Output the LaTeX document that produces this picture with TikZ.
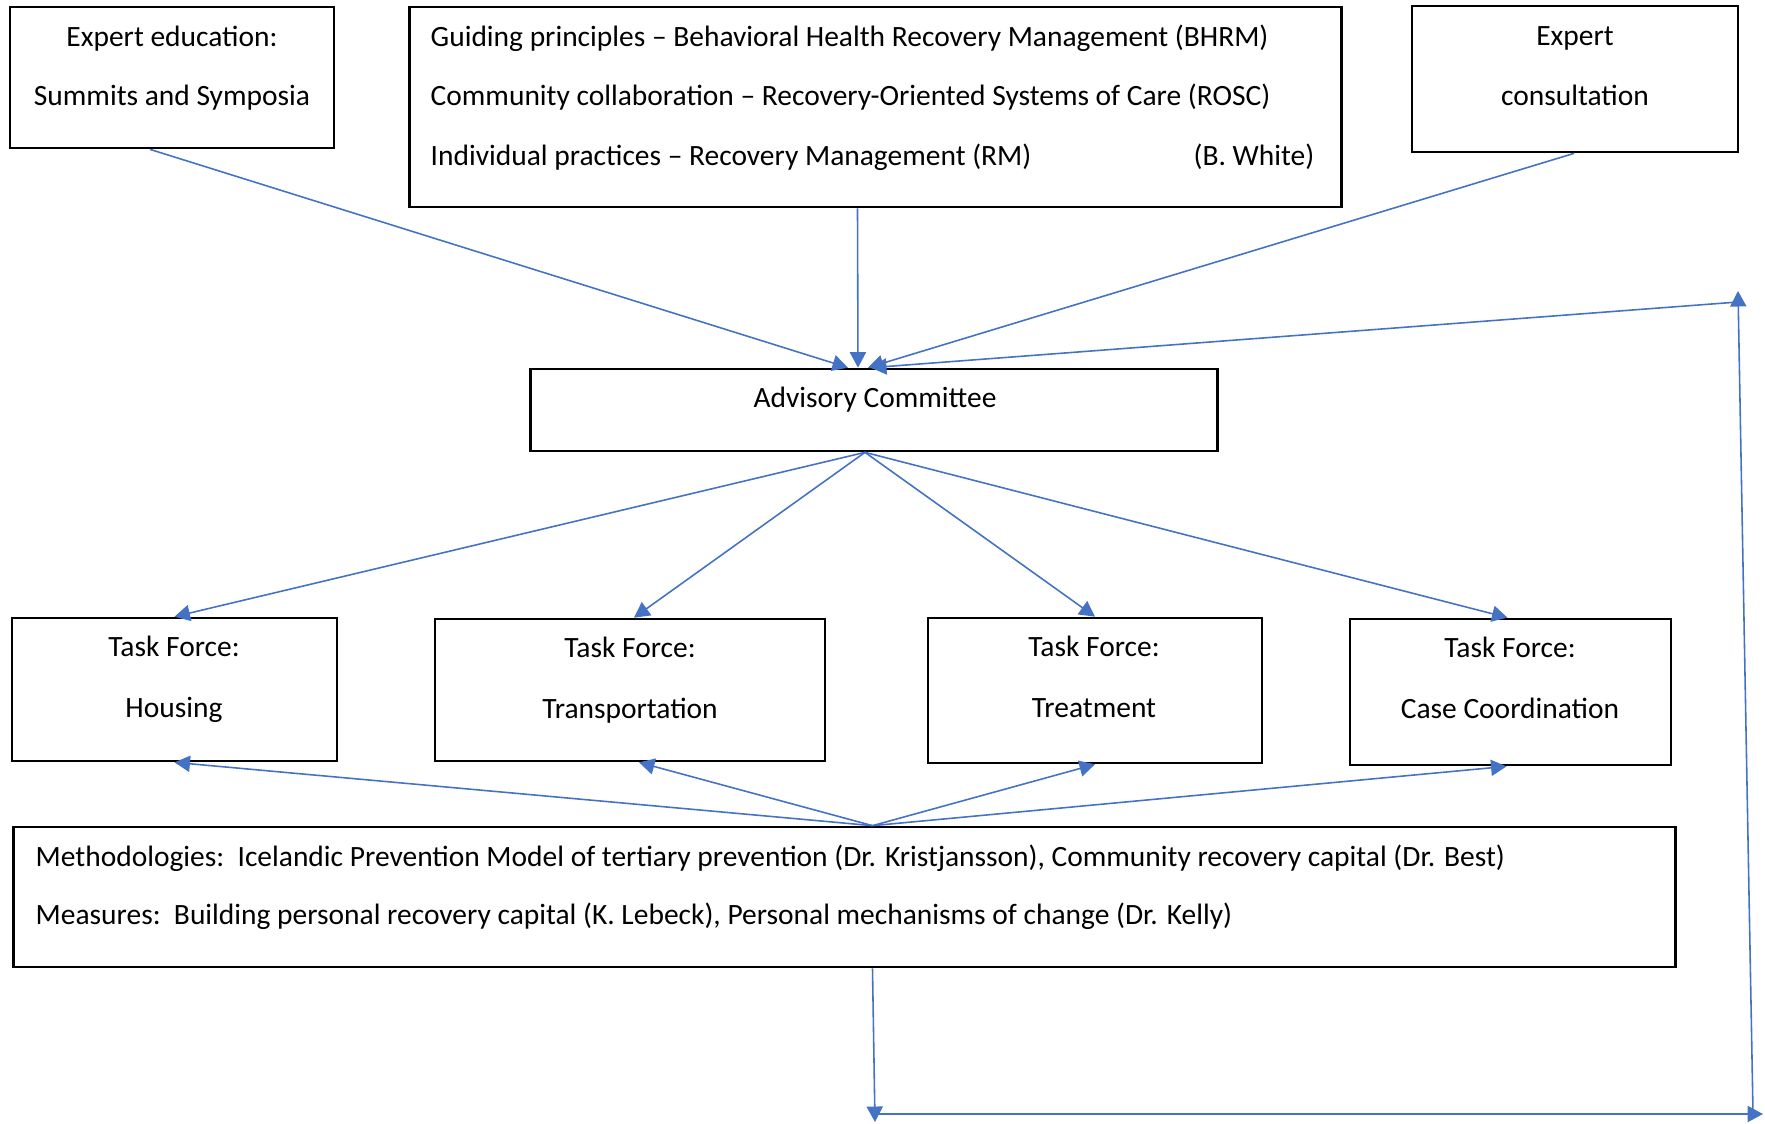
\documentclass[tikz,border=0pt]{standalone}
\usepackage{fontspec}
\setmainfont{Carlito}
\usetikzlibrary{arrows.meta,calc}
\definecolor{lineblue}{RGB}{68,114,196}

\begin{document}
\begin{tikzpicture}[x=0.01cm, y=-0.01cm,
    box/.style={draw, line width=0.75pt, rectangle, inner sep=0pt},
    txt/.style={inner sep=0pt, anchor=base, font=\fontsize{8.38}{10}\selectfont},
    flow/.style={-{Triangle[length=4.4pt,width=4.6pt]}, draw=lineblue, line width=0.45pt}]
        \useasboundingbox (0,0) rectangle (1765,1123);

        \node[box, minimum width=3.24cm, minimum height=1.41cm] (edu) at (172,77.5) {};
        \node[box, minimum width=9.31cm, minimum height=2.00cm] (guide) at (875.5,107) {};
        \node[box, minimum width=3.26cm, minimum height=1.46cm] (cons) at (1575,79) {};
        \node[box, minimum width=6.86cm, minimum height=0.82cm] (adv) at (874,410) {};
        \node[box, minimum width=3.25cm, minimum height=1.43cm] (tf1) at (174.5,689.5) {};
        \node[box, minimum width=3.90cm, minimum height=1.42cm] (tf2) at (630,690) {};
        \node[box, minimum width=3.34cm, minimum height=1.45cm] (tf3) at (1095,690.5) {};
        \node[box, minimum width=3.21cm, minimum height=1.46cm] (tf4) at (1510.5,692) {};
        \node[box, minimum width=16.61cm, minimum height=1.40cm] (meth) at (844.5,897) {};

        \node[txt] (edu1) at (172,46) {Expert education:};
        \node[txt] (edu2) at (172,105) {Summits and Symposia};
        \node[txt, anchor=base west] (guide1) at (430,46) {Guiding principles – Behavioral Health Recovery Management (BHRM)};
        \node[txt, anchor=base west] (guide2) at (430,105) {Community collaboration – Recovery-Oriented Systems of Care (ROSC)};
        \node[txt, anchor=base west] (guide3) at (430,165) {Individual practices – Recovery Management (RM)};
        \node[txt, anchor=base east] (guide4) at (1315,165) {(B. White)};
        \node[txt] (cons1) at (1575,45) {Expert};
        \node[txt] (cons2) at (1575,105) {consultation};
        \node[txt] (adv1) at (875,407) {Advisory Committee};
        \node[txt] (tf1a) at (174,656) {Task Force:};
        \node[txt] (tf1b) at (174,717) {Housing};
        \node[txt] (tf2a) at (630,657) {Task Force:};
        \node[txt] (tf2b) at (630,718) {Transportation};
        \node[txt] (tf3a) at (1094,656) {Task Force:};
        \node[txt] (tf3b) at (1094,717) {Treatment};
        \node[txt] (tf4a) at (1510,657) {Task Force:};
        \node[txt] (tf4b) at (1510,718) {Case Coordination};
        \node[txt, anchor=base west] (meth1) at (35,866) {Methodologies:\ \ Icelandic Prevention Model of tertiary prevention (Dr. Kristjansson), Community recovery capital (Dr. Best)};
        \node[txt, anchor=base west] (meth2) at (35,924) {Measures:\ \ Building personal recovery capital (K. Lebeck), Personal mechanisms of change (Dr. Kelly)};

        \coordinate (down) at (875,1122);
        \coordinate (left) at (875,1114);
        \coordinate (right) at (1763,1114);
        \coordinate (up0) at (1753,1112);
        \coordinate (up) at (1738,291);
        \coordinate (back) at (1738,302);

        \draw[flow] ($(edu.south)+(-22,0)$) -- ($(adv.north)+(-26,0)$);
        \draw[flow] ($(guide.south)+(-18,0)$) -- ($(adv.north)+(-16,0)$);
        \draw[flow] ($(cons.south)+(-1,0)$) -- ($(adv.north)+(-6,0)$);
        \draw[flow] (back) -- ($(adv.north)+(-3,0)$);

        \draw[flow] ($(adv.south)+(-9,0)$) -- (tf1.north);
        \draw[flow] ($(adv.south)+(-9,0)$) -- ($(tf2.north)+(4,0)$);
        \draw[flow] ($(adv.south)+(-9,0)$) -- (tf3.north);
        \draw[flow] ($(adv.south)+(-9,0)$) -- ($(tf4.north)+(-3,0)$);

        \draw[flow] ($(meth.north)+(28,0)$) -- (tf1.south);
        \draw[flow] ($(meth.north)+(28,0)$) -- ($(tf2.south)+(9,0)$);
        \draw[flow] ($(meth.north)+(28,0)$) -- (tf3.south);
        \draw[flow] ($(meth.north)+(28,0)$) -- ($(tf4.south)+(-4,0)$);

        \draw[flow] ($(meth.south)+(28,0)$) -- (down);
        \draw[flow] (left) -- (right);
        \draw[flow] (up0) -- (up);
\end{tikzpicture}
\end{document}
